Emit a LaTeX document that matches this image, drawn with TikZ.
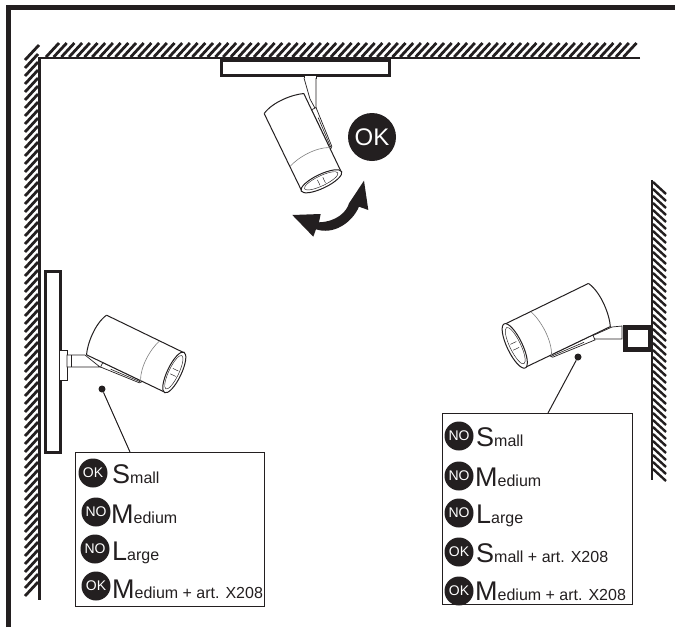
\documentclass[tikz,border=0pt]{standalone}
\usepackage{fontspec}
\setmainfont{Liberation Sans}
\definecolor{ink}{HTML}{231F20}
\newcommand{\sz}[1]{\fontsize{#1}{#1}\selectfont}
\newcommand{\rowtext}[2]{{\sz{27}#1}{\sz{16}#2}}
\newcommand{\spotlamp}{%
  \draw[lampline,line width=.7pt,fill=white] (18,27) -- (60,24.5) -- (62,22) -- (18,22) -- cycle;
  \fill[white] (0,-22) .. controls (-7,-8) and (-4,12) .. (0,22) -- (88,22) -- (88,-22) -- cycle;
  \draw[lampline,line width=1pt,line join=round] (1,-22.5) .. controls (-6,-10) and (-4,12) .. (0,22) -- (86,22);
  \draw[lampline,line width=1pt] (1,-22.5) -- (86,-22);
  \draw[lampline,line width=.6pt] (28,24.6) -- (60,23.2);
  \draw[lampline,line width=1pt,fill=white] (87,0) ellipse [x radius=7,y radius=22.5];
  \draw[lampline,line width=.45pt] (86.5,0) ellipse [x radius=5,y radius=18.5];
  \draw[lampline,line width=.45pt] (84,-3) -- (90,-3) (84,3) -- (90,3);
  \draw[gray,line width=.6pt] (60,-22) .. controls (55,-10) and (54,10) .. (60,22);
}
\tikzset{
  lampline/.style={draw=ink},
  wall/.style={draw=ink,line width=2.4pt},
  hatch/.style={draw=ink,line width=2.8pt},
  frame/.style={draw=ink,line width=5pt},
  track/.style={draw=ink,line width=3pt,fill=white},
  infobox/.style={draw=ink,line width=1.1pt,fill=white,inner sep=0pt},
  badge/.style={circle,fill=ink,text=white,minimum size=29pt,inner sep=0pt,font=\sz{14}},
  rowlabel/.style={anchor=base west,inner sep=0pt,text=ink},
  dotnode/.style={circle,fill=ink,minimum size=7pt,inner sep=0pt},
  leader/.style={draw=ink,line width=1pt},
  thin part/.style={draw=ink,line width=.7pt,fill=white}
}
\begin{document}
\begin{tikzpicture}[x=1pt,y=-1pt]
\useasboundingbox (0,0) rectangle (675,627);
% frame
\draw[frame] (8.5,627) -- (8.5,7.5) -- (675,7.5);
% ceiling hatch
\foreach \x in {46,53.7,...,627}{\draw[hatch] (\x,57) -- (\x+13,43);}
\draw[hatch] (25,60) -- (39,45);
% left wall hatch
\foreach \y in {68,76,...,600}{\draw[hatch] (25,\y) -- (38,\y-14);}
\draw[wall] (640,58) -- (39.5,58) -- (39.5,600);
% right wall hatch
\foreach \y in {182,189,...,474}{\draw[hatch,line width=2.4pt] (653,\y) -- (666,\y+12);}
\draw[wall] (652,180) -- (652,480);
% tracks
\node[track,anchor=north west,inner sep=0pt,text width=168pt,minimum height=15pt] (trackTop) at (220,59) {};
\node[track,anchor=north west,inner sep=0pt,text width=14.5pt,minimum height=181pt] (trackLeft) at (44,270) {};
\node[draw=ink,line width=5pt,fill=white,anchor=north west,inner sep=0pt,text width=25pt,minimum height=22pt] (trackRight) at (622.5,324.5) {};
% top lamp
\draw[thin part] (304,75) -- (304,78) -- (316,78) -- (316,75) -- cycle;
\draw[thin part] (304,78) -- (310,99) -- (316,110) -- (316,78);
\begin{scope}[shift={(284,103)},x={(.43pt,-.90pt)},y={(.90pt,.43pt)}]\spotlamp\end{scope}
% left lamp
\draw[thin part] (59,350) rectangle (67,380);
\draw[thin part] (67,355) -- (85,355) -- (100,367) -- (67,367) -- cycle;
\draw[ink,line width=.5pt] (71,355) -- (71,367);
\begin{scope}[shift={(96,335)},x={(.90pt,-.43pt)},y={(-.43pt,-.90pt)}]\spotlamp\end{scope}
% right lamp
\draw[thin part] (622,326) -- (612,327) -- (585,339) -- (622,339) -- cycle;
\begin{scope}[shift={(600,305)},x={(-.98pt,-.47pt)},y={(.47pt,-.98pt)}]\spotlamp\end{scope}
% OK + arrow
\node[circle,fill=ink,text=white,minimum size=48pt,inner sep=0pt,font=\sz{24}] (okBig) at (372,137) {OK};
\fill[ink] (292.3,215) -- (320.7,214) -- (319,222.3) .. controls (336.7,221.7) and (346.7,211.7) .. (349,203.3)
  -- (364,180.7) -- (368.3,210) -- (359,206.7) .. controls (351.7,223.3) and (333.3,235) .. (316,229.3)
  -- (313.3,236.7) -- cycle;
% left box
\node[infobox,anchor=north west,minimum width=189pt,minimum height=154pt] (boxL) at (75,452) {};
\node[badge] (l1) at (93,473) {OK};
\node[badge] (l2) at (96,512) {NO};
\node[badge] (l3) at (95,549) {NO};
\node[badge] (l4) at (96,586) {OK};
\node[rowlabel] (lt1) at (112,483) {\rowtext{S}{mall}};
\node[rowlabel] (lt2) at (111,523) {\rowtext{M}{edium}};
\node[rowlabel] (lt3) at (112,560) {\rowtext{L}{arge}};
\node[rowlabel] (lt4) at (112,598) {\rowtext{M}{edium + art. X208}};
\node[dotnode] (dotL) at (102,389) {};
\coordinate (hitL) at (130,452);
\draw[leader] (dotL) -- (hitL);
% right box
\node[infobox,anchor=north west,minimum width=190pt,minimum height=191pt] (boxR) at (442,413) {};
\node[badge] (r1) at (459,436) {NO};
\node[badge] (r2) at (459,476) {NO};
\node[badge] (r3) at (459,513) {NO};
\node[badge] (r4) at (459,552) {OK};
\node[badge] (r5) at (459,591) {OK};
\node[rowlabel] (rt1) at (476,446) {\rowtext{S}{mall}};
\node[rowlabel] (rt2) at (475,486) {\rowtext{M}{edium}};
\node[rowlabel] (rt3) at (476,523) {\rowtext{L}{arge}};
\node[rowlabel] (rt4) at (476,562) {\rowtext{S}{mall + art. X208}};
\node[rowlabel] (rt5) at (475,600) {\rowtext{M}{edium + art. X208}};
\node[dotnode] (dotR) at (578,357) {};
\coordinate (hitR) at (548,413);
\draw[leader] (dotR) -- (hitR);
\end{tikzpicture}
\end{document}
